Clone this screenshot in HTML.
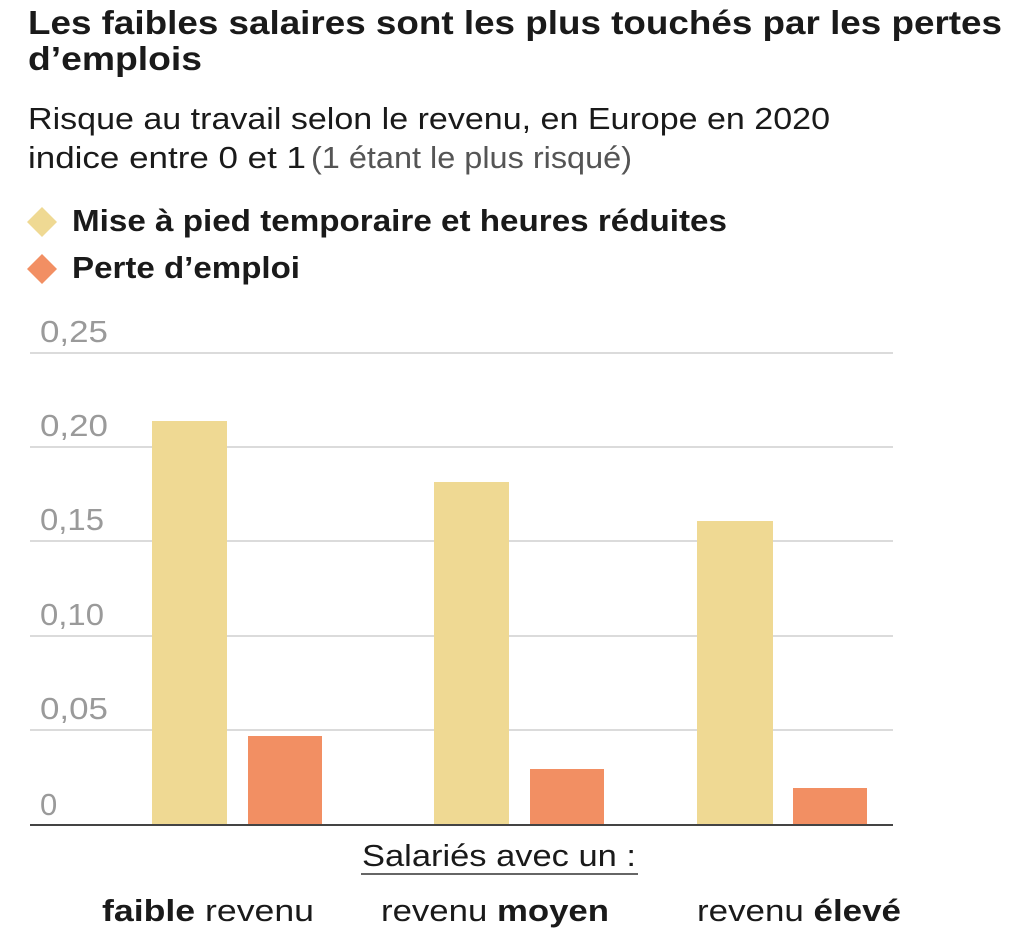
<!DOCTYPE html>
<html><head><meta charset="utf-8"><style>
html,body{margin:0;padding:0;background:#fff;}
svg{display:block;font-family:"Liberation Sans",sans-serif;}
</style></head><body>
<svg width="1024" height="947" viewBox="0 0 1024 947" xmlns="http://www.w3.org/2000/svg">
<g fill="#1a1a1a">
<text x="28" y="34" font-size="33" font-weight="bold" textLength="974" lengthAdjust="spacingAndGlyphs">Les faibles salaires sont les plus touchés par les pertes</text>
<text x="28" y="70" font-size="33" font-weight="bold" textLength="174" lengthAdjust="spacingAndGlyphs">d’emplois</text>
<text x="28" y="129" font-size="31" textLength="802" lengthAdjust="spacingAndGlyphs">Risque au travail selon le revenu, en Europe en 2020</text>
<text x="28" y="168" font-size="31" textLength="278" lengthAdjust="spacingAndGlyphs">indice entre 0 et 1</text>
<text x="311" y="168" font-size="31" fill="#555" textLength="321" lengthAdjust="spacingAndGlyphs">(1 étant le plus risqué)</text>
<text x="72" y="231" font-size="31" font-weight="bold" textLength="655" lengthAdjust="spacingAndGlyphs">Mise à pied temporaire et heures réduites</text>
<text x="72" y="278" font-size="31" font-weight="bold" textLength="228" lengthAdjust="spacingAndGlyphs">Perte d’emploi</text>
</g>
<polygon points="42,207 57,222 42,237 27,222" fill="#efd993"/>
<polygon points="42,254 57,269 42,284 27,269" fill="#f28f63"/>
<g stroke="#cfcfcf" stroke-width="1.5">
<line x1="30" y1="353" x2="893" y2="353"/>
<line x1="30" y1="447" x2="893" y2="447"/>
<line x1="30" y1="541" x2="893" y2="541"/>
<line x1="30" y1="636" x2="893" y2="636"/>
<line x1="30" y1="730" x2="893" y2="730"/>
</g>
<g fill="#9a9a9a" font-size="31">
<text x="40" y="342" textLength="68" lengthAdjust="spacingAndGlyphs">0,25</text>
<text x="40" y="436" textLength="68" lengthAdjust="spacingAndGlyphs">0,20</text>
<text x="40" y="530" textLength="64" lengthAdjust="spacingAndGlyphs">0,15</text>
<text x="40" y="625" textLength="64" lengthAdjust="spacingAndGlyphs">0,10</text>
<text x="40" y="719" textLength="68" lengthAdjust="spacingAndGlyphs">0,05</text>
<text x="40" y="815">0</text>
</g>
<rect x="152" y="421" width="75" height="404" fill="#efd993"/>
<rect x="248" y="736" width="74" height="89" fill="#f28f63"/>
<rect x="434" y="482" width="75" height="343" fill="#efd993"/>
<rect x="530" y="769" width="74" height="56" fill="#f28f63"/>
<rect x="697" y="521" width="76" height="304" fill="#efd993"/>
<rect x="793" y="788" width="74" height="37" fill="#f28f63"/>
<line x1="30" y1="825" x2="893" y2="825" stroke="#444" stroke-width="2"/>
<g fill="#1a1a1a" font-size="31">
<text x="362" y="866" textLength="274" lengthAdjust="spacingAndGlyphs">Salariés avec un :</text>
<line x1="361" y1="874" x2="638" y2="874" stroke="#333" stroke-width="1.5"/>
<text x="102" y="921" textLength="212" lengthAdjust="spacingAndGlyphs"><tspan font-weight="bold">faible</tspan> revenu</text>
<text x="381" y="921" textLength="228" lengthAdjust="spacingAndGlyphs">revenu <tspan font-weight="bold">moyen</tspan></text>
<text x="697" y="921" textLength="204" lengthAdjust="spacingAndGlyphs">revenu <tspan font-weight="bold">élevé</tspan></text>
</g>
</svg>
</body></html>
